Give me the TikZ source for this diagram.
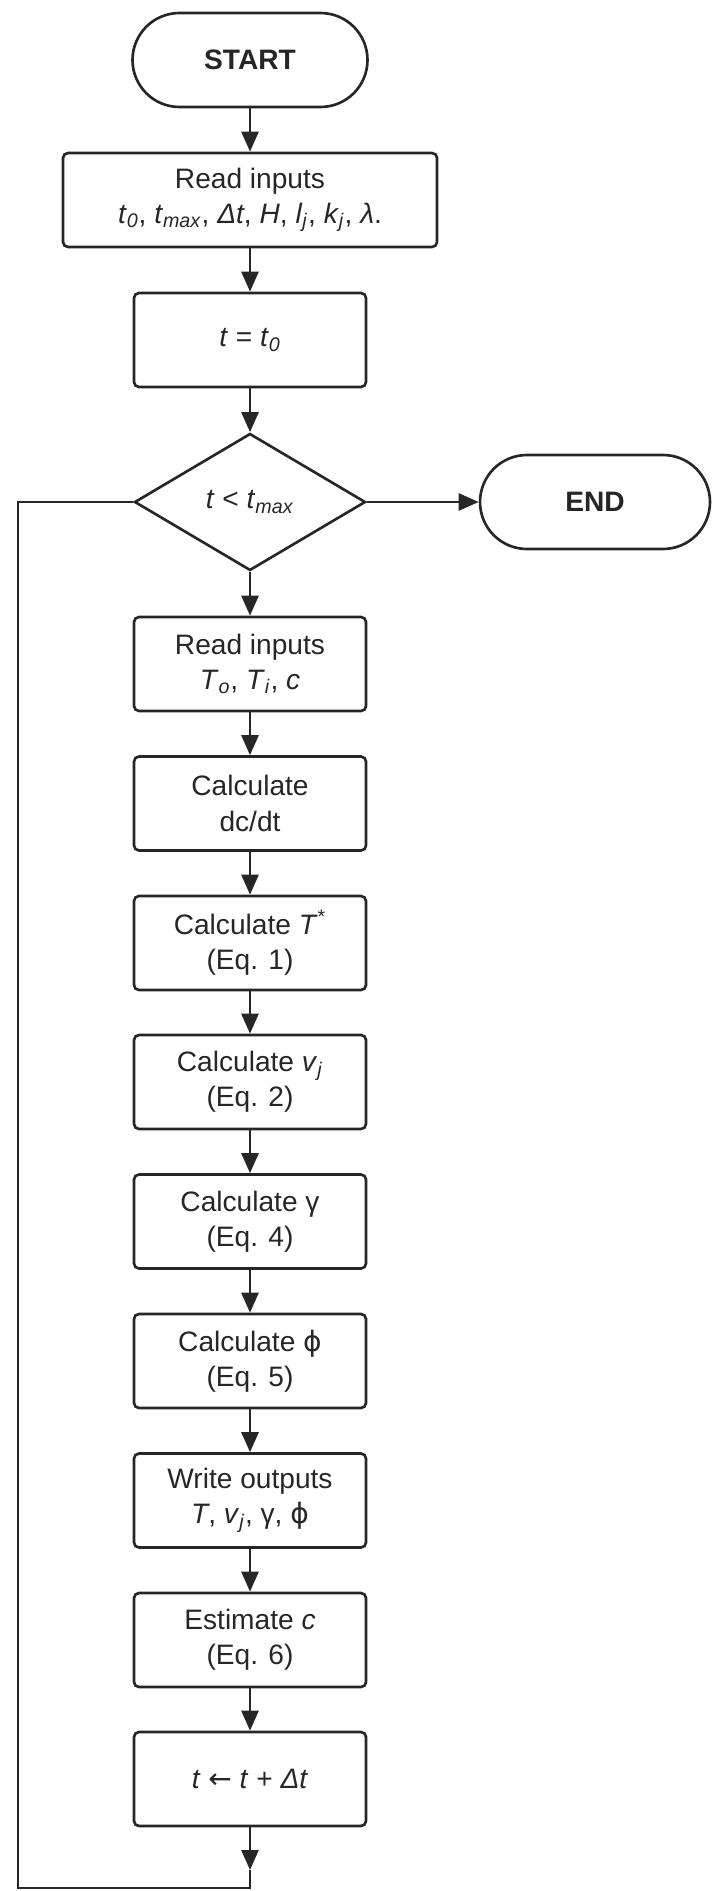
\documentclass[tikz,border=0pt]{standalone}
\usepackage{fontspec}
\setmainfont{Liberation Sans}
\newfontfamily\symfont{DejaVu Sans}
\usetikzlibrary{shapes.geometric,arrows.meta}
\def\phisym{{\symfont ϕ}}
\def\larr{{\symfont ←}}
\def\var#1{\textit{#1}}
\def\sub#1{\textsubscript{\textit{#1}}}
\tikzset{
	every node/.style={font=\fontsize{16}{20}\selectfont, text=black!85},
	term/.style={draw, rounded corners=9.4mm, minimum width=4.7cm, minimum height=1.88cm, font=\fontsize{16}{20}\selectfont\bfseries},
	proc/.style={draw, rounded corners=1mm, minimum width=4.64cm, minimum height=1.88cm, align=center},
	test/.style={draw, diamond, minimum width=4.62cm, minimum height=2.74cm, inner sep=0pt},
	arr/.style={-{Triangle[length=4mm,width=3.4mm]}}
}

\begin{document}
\begin{tikzpicture}[line width=1.5pt, color=black!85]
		%%%%% START %%%%%
		\useasboundingbox (0,0) rectangle (14.22,-37.82);
		
		\node[term] (start) at (5.0,-1.2) {START};
		\node[proc, minimum width=7.48cm] (read1) at (5.0,-4.0) {Read inputs\\ \var{t}\sub{0}, \var{t}\sub{max}, \var{Δt}, \var{H}, \var{l}\sub{j}, \var{k}\sub{j}, \var{λ}.};
		\node[proc] (tinit) at (5.0,-6.8) {\var{t} = \var{t}\sub{0}};
		\node[test] (cond) at (5.0,-10.04) {\var{t} < \var{t}\sub{max}};
		\node[term, minimum width=4.6cm] (end) at (11.9,-10.04) {END};
		
		\node[proc] (read2) at (5.0,-13.28) {Read inputs\\ \var{T}\sub{o}, \var{T}\sub{i}, \var{c}};
		\node[proc] (dcdt) at (5.0,-16.07) {Calculate\\ dc/dt};
		\node[proc] (tstar) at (5.0,-18.86) {Calculate \var{T}\textsuperscript{*}\\ (Eq. 1)};
		\node[proc] (velo) at (5.0,-21.64) {Calculate \var{v}\sub{j}\\ (Eq. 2)};
		\node[proc] (gam) at (5.0,-24.43) {Calculate γ\\ (Eq. 4)};
		\node[proc] (phi) at (5.0,-27.22) {Calculate \phisym\\ (Eq. 5)};
		\node[proc] (write) at (5.0,-30.01) {Write outputs\\ \var{T}, \var{v}\sub{j}, γ, \phisym};
		\node[proc] (estc) at (5.0,-32.80) {Estimate \var{c}\\ (Eq. 6)};
		\node[proc] (incr) at (5.0,-35.58) {\var{t} \larr{} \var{t} + \var{Δt}};
		
		\draw[arr] (start) -- (read1);
		\draw[arr] (read1) -- (tinit);
		\draw[arr] (tinit) -- (cond);
		\draw[arr] (cond) -- (end);
		\draw[arr] (cond) -- (read2);
		\draw[arr] (read2) -- (dcdt);
		\draw[arr] (dcdt) -- (tstar);
		\draw[arr] (tstar) -- (velo);
		\draw[arr] (velo) -- (gam);
		\draw[arr] (gam) -- (phi);
		\draw[arr] (phi) -- (write);
		\draw[arr] (write) -- (estc);
		\draw[arr] (estc) -- (incr);
		
		% loop back to the test
		\coordinate (tip) at (5.0,-37.40);
		\coordinate (low) at (5.0,-37.76);
		\coordinate (side) at (0.36,-37.76);
		\draw[arr] (incr) -- (tip);
		\draw (tip) -- (low) -- (side) |- (cond.west);
		
		%%%%% END %%%%%
	\end{tikzpicture}
\end{document}
